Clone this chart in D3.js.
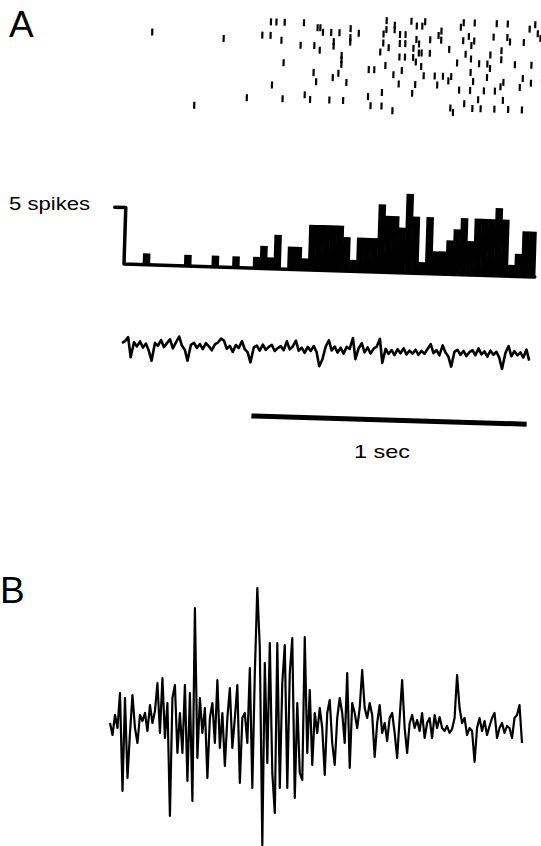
<!DOCTYPE html>
<html>
<head>
<meta charset="utf-8">
<script src="https://cdn.jsdelivr.net/npm/d3@7"></script>
<style>
  html, body { margin: 0; padding: 0; background: #fff; }
  svg { display: block; }
  text { font-family: "Liberation Sans", Arial, sans-serif; fill: #000; }
</style>
</head>
<body>
<script>
'use strict';

// spike times (s) for each trial of the raster, top trial first
var rasterTrials = [
    [0.96, 1.05, 1.10, 1.24, 1.28, 1.36, 1.40, 1.50],
    [0.54, 0.56, 0.59, 0.66, 0.99, 1.07, 1.09, 1.23, 1.48],
    [0.71, 0.72, 0.83, 0.96, 0.99, 1.16, 1.51],
    [0.73, 0.76, 0.79, 0.86, 0.95, 1.01, 1.03, 1.15, 1.26, 1.35, 1.40, 1.52],
    [0.11, 0.51, 0.54, 0.83, 1.07, 1.12, 1.16, 1.24, 1.28, 1.41, 1.46],
    [0.37, 0.58, 0.77, 0.83, 0.95, 1.01, 1.03, 1.08, 1.27],
    [0.65, 0.70, 0.77, 0.97, 1.06, 1.19, 1.38],
    [0.72, 0.94, 1.08, 1.09, 1.12, 1.25, 1.34],
    [0.80, 1.01, 1.03, 1.06, 1.27, 1.38],
    [0.80, 1.07, 1.22, 1.30, 1.33, 1.43, 1.49],
    [0.59, 0.80, 0.96, 1.09, 1.34],
    [0.90, 0.92, 1.02, 1.27],
    [0.70, 0.79, 0.99, 1.10, 1.14, 1.17, 1.20, 1.33, 1.46, 1.53],
    [0.77, 1.19, 1.28, 1.39, 1.49],
    [0.71, 0.82, 1.01, 1.07, 1.15, 1.38, 1.45],
    [0.55, 1.23, 1.27, 1.32, 1.36],
    [0.95, 1.06],
    [0.67, 0.90, 1.30, 1.39],
    [0.46, 0.59, 0.69, 0.76, 0.81, 1.25],
    [0.91, 0.95, 1.20, 1.28, 1.31, 1.36, 1.41, 1.46],
    [0.27, 0.99, 1.21]
];

// peri-stimulus histogram, 25 ms bins, spike counts
var binWidth = 0.025;
var histCounts = [
    0, 0, 0, 1, 0, 0, 0, 0, 0, 1,
    0, 0, 0, 1, 0, 0, 1, 0, 0, 1,
    2, 1, 3, 0, 2, 2, 1, 4, 4, 4,
    4, 4, 3, 1, 3, 3, 3, 6, 5, 5,
    4, 7, 5, 1, 5, 2, 2, 3, 4, 5,
    3, 5, 5, 5, 6, 5, 1, 2, 4, 4
];
var countTicks = [5];

// field potential, panel A (arbitrary units, up = positive)
var traceADuration = 1.48;
var traceA = [
    1, 3, 7, -13, 2, -2, 3, -3, 1, -6,
    -16, 2, -1, 5, -2, 2, 6, -3, 3, 9,
    0, -4, -15, 1, 3, -2, 2, -3, 3, 0,
    -4, 2, 4, 8, 6, -2, 1, -5, 2, -1,
    6, -2, -5, -15, 0, 2, -3, 3, -2, 1,
    3, -3, 0, 2, -2, 7, -1, 2, 8, -2,
    1, -4, 2, -2, 3, -3, -17, -10, 3, 9,
    -1, 3, -3, 2, -4, 3, 1, 12, -9, 2,
    7, -2, 3, -3, 2, 4, 12, -12, 2, -3,
    1, -4, 2, -2, 3, -3, 1, -2, 2, -3,
    1, -2, 3, 8, -1, 2, -3, 7, 0, -4,
    -14, 1, 3, -2, 2, -3, 1, 3, -2, 5,
    -1, 2, -3, 3, -1, 2, -4, -15, 1, 8,
    -2, 3, -1, 2, -3, 5, -6
];

// field potential, panel B (arbitrary units, up = positive)
var traceB = [
    0, -12, 8, -5, 30, -68, 25, -55, -10, 28,
    -5, -20, 8, 2, 10, -8, 18, 0, 12, 40,
    -10, 45, -15, 20, -93, 25, 38, -30, 10, -30,
    38, -58, 30, -78, 115, -35, 25, -10, 15, -55,
    5, 20, -20, 43, -25, 10, -43, 5, 35, -25,
    5, 38, -60, 5, 10, -20, 55, -65, 50, 135,
    75, -122, 60, -40, 80, -50, -90, 80, -65, 40,
    78, -65, 50, 85, -75, 20, -50, -57, 86, -30,
    33, -42, 10, -10, 15, -5, -52, 10, 23, -20,
    -42, 5, 25, 10, -20, 50, -45, 20, 10, -5,
    15, 53, 15, 5, 20, 8, -34, 0, 18, -10,
    0, -18, 5, 10, -10, -35, 5, 43, -5, -30,
    0, 8, -5, 3, -8, 10, -15, 0, 5, -15,
    8, -5, 6, -5, -8, -3, -10, -6, 5, 48,
    15, 0, 5, -12, -5, -8, -39, -5, 5, -8,
    2, -12, -3, 5, 10, -15, -5, 0, -10, -3,
    -5, -15, 5, 8, 18, -20
];

var scaleBarStart = 0.47;
var scaleBarLength = 1.0;

var width = 541;
var height = 846;
var tilt = 1.6; // the scanned figure is slightly rotated

var svg = d3.select('body').append('svg')
        .attr('width', width)
        .attr('height', height);

// common time axis for panel A
var xTime = d3.scaleLinear().domain([0, 1.5]).range([122, 535]);

// ---------- panel A ----------
svg.append('text')
        .attr('x', 9)
        .attr('y', 37)
        .attr('font-size', 37)
        .text('A');

// raster
var yTrial = d3.scaleLinear().domain([0, rasterTrials.length - 1]).range([14, 104]);
var raster = svg.append('g')
        .attr('transform', 'rotate(' + tilt + ',150,30)');
rasterTrials.forEach(function(spikes, trial) {
    raster.selectAll(null)
            .data(spikes)
            .enter()
            .append('line')
            .attr('x1', function(d) { return xTime(d); })
            .attr('x2', function(d) { return xTime(d); })
            .attr('y1', yTrial(trial) - 3.5)
            .attr('y2', yTrial(trial) + 3.5)
            .style('stroke', '#000')
            .style('stroke-width', 2.2);
});

// histogram
var yCount = d3.scaleLinear().domain([0, 5]).range([264, 207.5]);
var hist = svg.append('g')
        .attr('transform', 'rotate(' + (tilt + 0.2) + ',122,264)');
var barW = xTime(binWidth) - xTime(0);
hist.selectAll('rect.bar')
        .data(histCounts)
        .enter()
        .append('rect')
        .attr('class', 'bar')
        .attr('x', function(d, i) { return xTime(i * binWidth); })
        .attr('y', function(d) { return yCount(d); })
        .attr('width', barW + 0.6)
        .attr('height', function(d) { return yCount(0) - yCount(d); })
        .style('fill', '#000');

// baseline and count scale
var axisPath = d3.path();
axisPath.moveTo(113, yCount(countTicks[0]));
axisPath.lineTo(124, yCount(countTicks[0]));
axisPath.lineTo(124, yCount(0));
axisPath.lineTo(xTime(histCounts.length * binWidth), yCount(0));
hist.append('path')
        .attr('d', axisPath.toString())
        .style('fill', 'none')
        .style('stroke', '#000')
        .style('stroke-width', 3.5)
        .style('stroke-linejoin', 'round')
        .style('stroke-linecap', 'round');

svg.append('text')
        .attr('x', 9)
        .attr('y', 210)
        .attr('font-size', 18)
        .attr('textLength', 81)
        .attr('lengthAdjust', 'spacingAndGlyphs')
        .text(countTicks[0] + ' spikes');

// field potential A
var yA = d3.scaleLinear().domain([-20, 20]).range([364, 324]);
var lineA = d3.line()
        .x(function(d, i) { return xTime(i * traceADuration / (traceA.length - 1)); })
        .y(function(d) { return yA(d); });
svg.append('g')
        .attr('transform', 'rotate(' + (tilt - 0.1) + ',122,344)')
        .append('path')
        .attr('d', lineA(traceA))
        .style('fill', 'none')
        .style('stroke', '#000')
        .style('stroke-width', 2.6)
        .style('stroke-linejoin', 'round');

// time scale bar
var bar = svg.append('g')
        .attr('transform', 'rotate(' + (tilt + 0.1) + ',252,416)');
bar.append('line')
        .attr('x1', xTime(scaleBarStart))
        .attr('x2', xTime(scaleBarStart + scaleBarLength))
        .attr('y1', 416)
        .attr('y2', 416)
        .style('stroke', '#000')
        .style('stroke-width', 5);
svg.append('text')
        .attr('x', 354)
        .attr('y', 458)
        .attr('font-size', 19)
        .attr('textLength', 56)
        .attr('lengthAdjust', 'spacingAndGlyphs')
        .text('1 sec');

// ---------- panel B ----------
svg.append('text')
        .attr('x', 0)
        .attr('y', 603)
        .attr('font-size', 37)
        .text('B');

var xB = d3.scaleLinear().domain([0, traceB.length - 1]).range([110, 522]);
var yB = d3.scaleLinear().domain([-100, 100]).range([823, 623]);
var lineB = d3.line()
        .x(function(d, i) { return xB(i); })
        .y(function(d) { return yB(d); });
svg.append('path')
        .attr('d', lineB(traceB))
        .style('fill', 'none')
        .style('stroke', '#000')
        .style('stroke-width', 2.2)
        .style('stroke-linejoin', 'round');
</script>
</body>
</html>
